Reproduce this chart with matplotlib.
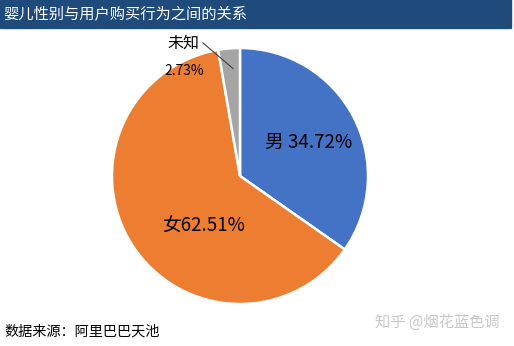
import matplotlib
matplotlib.use("Agg")
import matplotlib.pyplot as plt
from matplotlib.patches import Rectangle

plt.rcParams['font.family'] = ['Noto Sans CJK SC', 'DejaVu Sans']

# ====== DATA ======
title = "婴儿性别与用户购买行为之间的关系"
labels = ["男", "女", "未知"]
shares = [34.72, 62.51, 2.73]
colors = ["#4472C4", "#ED7D31", "#A5A5A5"]
source = "数据来源：阿里巴巴天池"
mark = "知乎 @烟花蓝色调"

W, H = 514, 346
fig = plt.figure(figsize=(W / 100, H / 100), dpi=100)
fig.patch.set_facecolor("white")

# title bar
fig.patches.append(Rectangle((0, 1 - 28 / H), 511 / W, 28 / H,
                             transform=fig.transFigure, color="#1F4A7C", zorder=0))
fig.text(3 / W, 1 - 14 / H, title, color="white", fontsize=11, va="center", ha="left")

# pie centred at (240, 176) with radius 128 px
cx, cy, r = 240, 176, 128
ax = fig.add_axes([(cx - r) / W, 1 - (cy + r) / H, 2 * r / W, 2 * r / H])
wedges, _ = ax.pie(shares, colors=colors, startangle=90, counterclock=False,
                   wedgeprops=dict(edgecolor="white", linewidth=1.8))
ax.set_xlim(-1, 1)
ax.set_ylim(-1, 1)
ax.set_aspect("equal")
ax.axis("off")

ax.text(0.54, 0.266, f"{labels[0]} {shares[0]:.2f}%", fontsize=13.5, ha="center", va="center")
ax.text(-0.285, -0.383, f"{labels[1]}{shares[1]:.2f}%", fontsize=13.5, ha="center", va="center")

# small slice label with leader line
ax.plot([-0.29, -0.055], [1.04, 0.84], color="#404040", lw=0.8, clip_on=False)
ax.text(-0.57, 1.04, labels[2], fontsize=11.5, ha="left", va="center")
ax.text(-0.59, 0.82, f"{shares[2]:.2f}%", fontsize=10, ha="left", va="center")

fig.text(4 / W, 1 - 332 / H, source, fontsize=10.2, va="center", ha="left", color="black")
fig.text(375 / W, 1 - 322 / H, mark, fontsize=11, va="center", ha="left", color="#C8C8C8")

fig.savefig("out.png", dpi=100)
